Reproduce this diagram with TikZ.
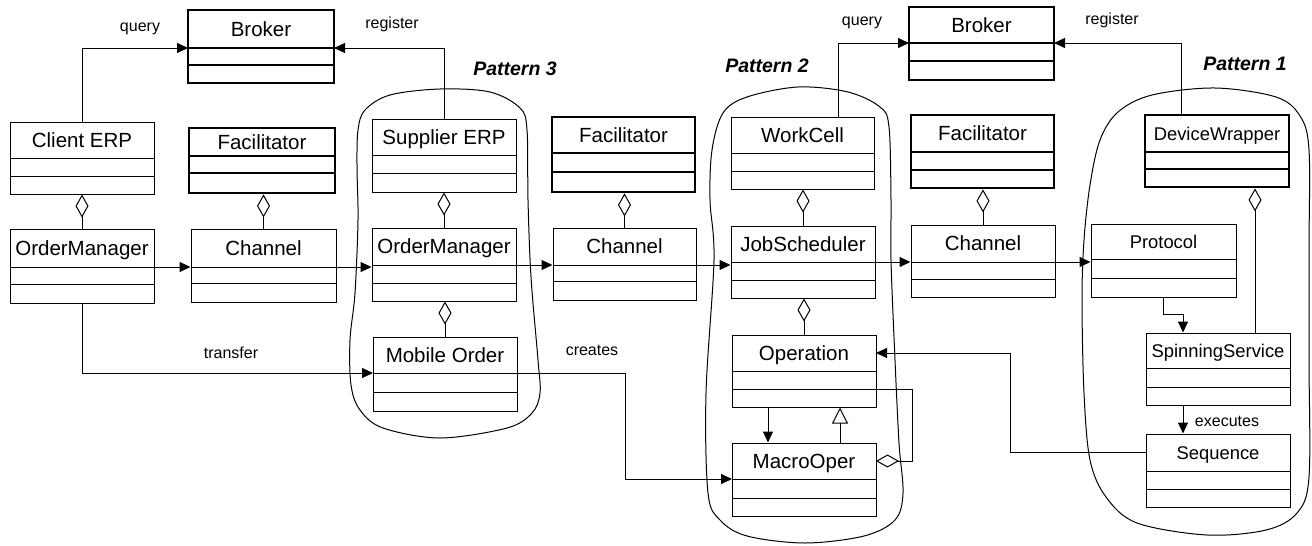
\documentclass[tikz,border=0pt]{standalone}
\usepackage{fontspec}
\setmainfont{Liberation Sans}
\usetikzlibrary{arrows.meta,fit}
\tikzset{
 thinbox/.style={line width=1pt},
 thickbox/.style={line width=2.8pt},
 ctitle/.style={font=\fontsize{20.5}{24}\selectfont, inner sep=0pt, text height=14.8pt, text depth=0pt},
 smalltitle/.style={font=\fontsize{18.4}{22}\selectfont, text height=13.2pt},
 lbl/.style={font=\fontsize{16}{19}\selectfont, inner sep=0pt, anchor=base},
 pat/.style={font=\fontsize{19.5}{23}\selectfont\bfseries\itshape, inner sep=0pt, text height=14pt, text depth=0pt},
 conn/.style={line width=1pt},
 arr/.style={conn,-{Triangle[length=11pt,width=10pt]}},
 agg/.style={conn,-{Diamond[open,length=23pt,width=13pt]}},
 gen/.style={conn,-{Triangle[open,length=16pt,width=16pt]}},
 blob/.style={line width=1pt},
}
\newcommand\cls[9]{%
  \node[draw,#9,fit={(#2,#3) (#4,#5)},inner sep=0pt] (#1) {};
  \draw[#9] (#2,#6) coordinate (#1-s1w) -- (#4,#6) coordinate (#1-s1e);
  \draw[#9] (#2,#7) coordinate (#1-s2w) -- (#4,#7) coordinate (#1-s2e);
  \coordinate (#1-tw) at (#2,{(#3+#6)/2});
  \coordinate (#1-te) at (#4,{(#3+#6)/2});
  \node[ctitle,#9] (#1-name) at ({(#2+#4)/2},{(#3+#6)/2}) {#8};
}
\begin{document}
\begin{tikzpicture}[x=1pt,y=-1pt]
\useasboundingbox (0,0) rectangle (1312,546);
% pattern blobs
\draw[blob] plot[smooth cycle, tension=0.55] coordinates {
 (358,130) (365,110) (390,95) (440,89) (490,92) (520,108) (527,130) (528,200)
 (531,277) (538,360) (540,393) (532,413) (507,428) (440,438) (383,428) (360,410)
 (351,385) (350,340) (355,293) (358,220) (357,167)};
\draw[blob] plot[smooth cycle, tension=0.55] coordinates {
 (712,150) (723,113) (747,97) (798,87) (848,92) (880,107) (889,127) (891,200)
 (891,260) (895,360) (899,443) (903,493) (895,520) (864,536) (805,543) (747,536)
 (720,520) (708,493) (706,393) (714,260) (710,200)};
\draw[blob] plot[smooth cycle, tension=0.55] coordinates {
 (1309,150) (1300,116) (1276,97) (1215,88) (1152,95) (1118,112) (1100,140)
 (1090,185) (1084,240) (1082,300) (1084,393) (1090,460) (1106,497) (1137,523)
 (1207,535) (1266,530) (1297,513) (1309,477) (1309,360) (1309,250)};
% classes
\cls{B1}{188}{10}{334}{83}{48}{65}{Broker}{thickbox}
\cls{B2}{909}{7}{1054}{80}{43}{61}{Broker}{thickbox}
\cls{CERP}{10}{122}{154}{194}{158}{176}{Client ERP}{thinbox}
\cls{F1}{189}{128}{335}{193}{156}{173}{Facilitator}{thickbox}
\cls{SERP}{372}{119}{516}{192}{155}{173}{Supplier ERP}{thinbox}
\cls{F2}{552}{117}{695}{192}{153}{172}{Facilitator}{thickbox}
\cls{WC}{731}{117}{874}{189}{153}{171}{WorkCell}{thinbox}
\cls{F3}{911}{115}{1054}{188}{152}{170}{Facilitator}{thickbox}
\cls{DW}{1145}{115}{1289}{187}{152}{169}{DeviceWrapper}{thickbox,smalltitle}
\cls{OM1}{10}{229}{154}{303}{267}{284}{OrderManager}{thinbox}
\cls{C1}{191}{229}{336}{302}{267}{283}{Channel}{thinbox}
\cls{OM2}{372}{228}{516}{301}{265}{283}{OrderManager}{thinbox}
\cls{C2}{553}{228}{696}{300}{265}{281}{Channel}{thinbox}
\cls{JS}{731}{226}{875}{298}{262}{280}{JobScheduler}{thinbox}
\cls{C3}{911}{225}{1055}{297}{262}{279}{Channel}{thinbox}
\cls{PR}{1091}{224}{1236}{297}{259}{278}{Protocol}{thinbox,smalltitle}
\cls{MO}{373}{337}{517}{411}{373}{392}{Mobile Order}{thinbox}
\cls{OP}{732}{335}{876}{407}{371}{389}{Operation}{thinbox}
\cls{SS}{1146}{333}{1290}{405}{368}{387}{SpinningService}{thinbox,smalltitle}
\cls{MC}{732}{443}{876}{516}{479}{498}{MacroOper}{thinbox}
\cls{SQ}{1146}{434}{1290}{507}{471}{489}{Sequence}{thinbox,smalltitle}
% query / register
\draw[arr] (CERP.north) |- (B1-s1w);
\draw[arr] (SERP.north) |- (B1-s1e);
\draw[arr] ([xshift=36pt]WC.north) |- (B2-s1w);
\draw[arr] ([xshift=-36pt]DW.north) |- (B2-s1e);
% aggregations
\draw[agg] (OM1.north) -- (OM1.north |- CERP.south);
\draw[agg] (C1.north) -- (C1.north |- F1.south);
\draw[agg] (OM2.north) -- (OM2.north |- SERP.south);
\draw[agg] (C2.north) -- (C2.north |- F2.south);
\draw[agg] (MO.north) -- (MO.north |- OM2.south);
\draw[agg] (JS.north) -- (JS.north |- WC.south);
\draw[agg] (C3.north) -- (C3.north |- F3.south);
\draw[agg] (OP.north) -- (OP.north |- JS.south);
\draw[agg] ([xshift=37pt]SS.north) -- ([xshift=37pt]SS.north |- DW.south);
% main flow
\draw[arr] (OM1-s1e) -- (OM1-s1e -| C1.west);
\draw[arr] (C1-s1e) -- (C1-s1e -| OM2.west);
\draw[arr] (OM2-s1e) -- (OM2-s1e -| C2.west);
\draw[arr] (C2-s1e) -- (C2-s1e -| JS.west);
\draw[arr] (JS-s1e) -- (JS-s1e -| C3.west);
\draw[arr] (C3-s1e) -- (C3-s1e -| PR.west);
% other connectors
\draw[arr] (OM1.south) |- (MO-s1w);
\draw[arr] (MO-s1e) -- ++(108,0) |- (MC-s1w);
\draw[arr] ([xshift=-36pt]OP.south) -- ([xshift=-36pt]OP.south |- MC.north);
\draw[gen] ([xshift=36pt]MC.north) -- ([xshift=36pt]MC.north |- OP.south);
\draw[agg] (OP-s2e) -- ++(36,0) |- (MC-te);
\draw[arr] (SQ-tw) -- ++(-136,0) |- (OP-te);
\draw[arr] (PR.south) -- ++(0,17) -| ([xshift=-35pt]SS.north);
\draw[arr] ([xshift=-35pt]SS.south) -- ([xshift=-35pt]SS.south |- SQ.north);
% labels
\node[lbl] (lq1) at (140,31) {query};
\node[lbl] (lr1) at (392,28) {register};
\node[lbl] (lq2) at (862,25) {query};
\node[lbl] (lr2) at (1112,24) {register};
\node[lbl] (ltr) at (231,358) {transfer};
\node[lbl] (lcr) at (592,355) {creates};
\node[lbl] (lex) at (1227,426) {executes};
\node[pat] (p3) at (515,68) {Pattern 3};
\node[pat] (p2) at (767,65) {Pattern 2};
\node[pat] (p1) at (1245,63) {Pattern 1};
\end{tikzpicture}
\end{document}
